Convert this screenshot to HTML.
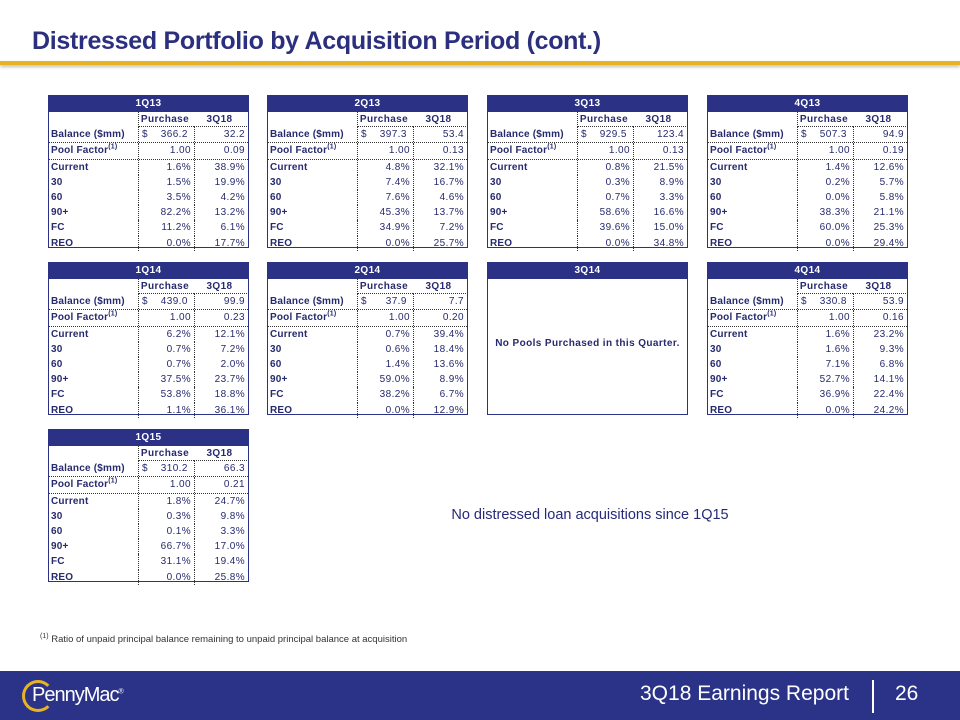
<!DOCTYPE html>
<html><head><meta charset="utf-8">
<style>
body{margin:0;width:960px;height:720px;position:relative;background:#fff;font-family:"Liberation Sans",Arial,sans-serif;overflow:hidden;color:#262a6e}
.title{position:absolute;left:32px;top:27px;font-size:25px;font-weight:bold;color:#2b2f7e;letter-spacing:-0.3px}
.rule{position:absolute;left:0;top:61px;width:960px;height:4px;background:#e6b422;box-shadow:0 2px 3px rgba(0,0,0,0.25)}
.tbl{position:absolute;width:201px;border:1.5px solid #2b3185;box-sizing:border-box;font-size:10px;letter-spacing:0.4px}
.hd{background:#2b3185;color:#fff;text-align:center;height:16px;line-height:16px;font-weight:bold}
.row{position:relative;height:15.2px;line-height:15.2px}
.c{position:absolute;top:0;height:100%;box-sizing:border-box}
.c0{left:2px;width:88px;font-weight:bold;letter-spacing:0.2px}
.c1{left:89px;width:56px;border-left:1px dotted #333;text-align:right;padding-right:3px}
.c2{left:145px;width:53px;border-left:1px dotted #333;text-align:right;padding-right:2px}
.hl{border-bottom:1px dotted #333}
.bh{font-weight:bold}
.nop{position:absolute;left:0;right:0;top:75px;text-align:center;font-weight:bold}
sup{font-size:7px;line-height:0}
.foot{position:absolute;left:0;top:671px;width:960px;height:49px;background:#2b3388}
</style></head><body>
<div class="title">Distressed Portfolio by Acquisition Period (cont.)</div>
<div class="rule"></div>
<div id="tables"></div>
<div style="position:absolute;left:380px;top:507px;width:420px;text-align:center;font-size:14.5px;color:#262a78">No distressed loan acquisitions since 1Q15</div>
<div style="position:absolute;left:40px;top:634px;font-size:9.5px;color:#333"><sup>(1)</sup> Ratio of unpaid principal balance remaining to unpaid principal balance at acquisition</div>
<div class="foot">
 <div style="position:absolute;left:22px;top:9px;width:26px;height:26px;border:3px solid #e6b422;border-radius:50%;border-right-color:transparent"></div>
 <div style="position:absolute;left:32px;top:13px;color:#fff;font-size:20px;letter-spacing:-1px">PennyMac<sup>®</sup></div>
 <div style="position:absolute;left:640px;top:11px;color:#fff;font-size:21px">3Q18 Earnings Report</div>
 <div style="position:absolute;left:872px;top:9px;width:2px;height:33px;background:#fff"></div>
 <div style="position:absolute;left:895px;top:11px;color:#fff;font-size:21px">26</div>
</div>
<script>
const quarters=["1Q13","2Q13","3Q13","4Q13","1Q14","2Q14","3Q14","4Q14","1Q15"];
const balPurchase=["366.2","397.3","929.5","507.3","439.0","37.9",null,"330.8","310.2"];
const bal3Q18=["32.2","53.4","123.4","94.9","99.9","7.7",null,"53.9","66.3"];
const poolFactor=["0.09","0.13","0.13","0.19","0.23","0.20",null,"0.16","0.21"];
const rowLabels=["Current","30","60","90+","FC","REO"];
const purchasePct=[["1.6%","1.5%","3.5%","82.2%","11.2%","0.0%"],["4.8%","7.4%","7.6%","45.3%","34.9%","0.0%"],["0.8%","0.3%","0.7%","58.6%","39.6%","0.0%"],["1.4%","0.2%","0.0%","38.3%","60.0%","0.0%"],["6.2%","0.7%","0.7%","37.5%","53.8%","1.1%"],["0.7%","0.6%","1.4%","59.0%","38.2%","0.0%"],null,["1.6%","1.6%","7.1%","52.7%","36.9%","0.0%"],["1.8%","0.3%","0.1%","66.7%","31.1%","0.0%"]];
const q3Pct=[["38.9%","19.9%","4.2%","13.2%","6.1%","17.7%"],["32.1%","16.7%","4.6%","13.7%","7.2%","25.7%"],["21.5%","8.9%","3.3%","16.6%","15.0%","34.8%"],["12.6%","5.7%","5.8%","21.1%","25.3%","29.4%"],["12.1%","7.2%","2.0%","23.7%","18.8%","36.1%"],["39.4%","18.4%","13.6%","8.9%","6.7%","12.9%"],null,["23.2%","9.3%","6.8%","14.1%","22.4%","24.2%"],["24.7%","9.8%","3.3%","17.0%","19.4%","25.8%"]];
const lefts=[48,267,487,707],tops=[95,262,429];
const wrap=document.getElementById('tables');
quarters.forEach((q,i)=>{
 const t=document.createElement('div');
 t.className='tbl';
 
 
 t.style.left=lefts[i%4]+'px';t.style.top=tops[Math.floor(i/4)]+'px';t.style.height='153px';
 let h='<div class="hd">'+q+'</div>';
 if(balPurchase[i]===null){
  h+='<div class="nop">No Pools Purchased in this Quarter.</div>';
 }else{
  const row=(a,b,c,cls,dollar)=>'<div class="row'+(cls?' hl':'')+'"><div class="c c0">'+a+'</div><div class="c c1">'+(dollar?'<span style="float:left;padding-left:3px">$</span>':'')+b+'</div><div class="c c2">'+c+'</div></div>';
  h+='<div class="row"><div class="c c0"></div><div class="c c1 hl bh" style="text-align:center">Purchase</div><div class="c c2 hl bh" style="text-align:center;border-left:none">3Q18</div></div>';
  h+=row('Balance ($mm)',balPurchase[i]+'&nbsp;',bal3Q18[i],true,true);
  h+=row('Pool Factor<sup>(1)</sup>','1.00',poolFactor[i],true,false);
  rowLabels.forEach((l,k)=>{h+=row(l,purchasePct[i][k],q3Pct[i][k],false,false);});
 }
 t.innerHTML=h;
 wrap.appendChild(t);
});
</script>
</body></html>
